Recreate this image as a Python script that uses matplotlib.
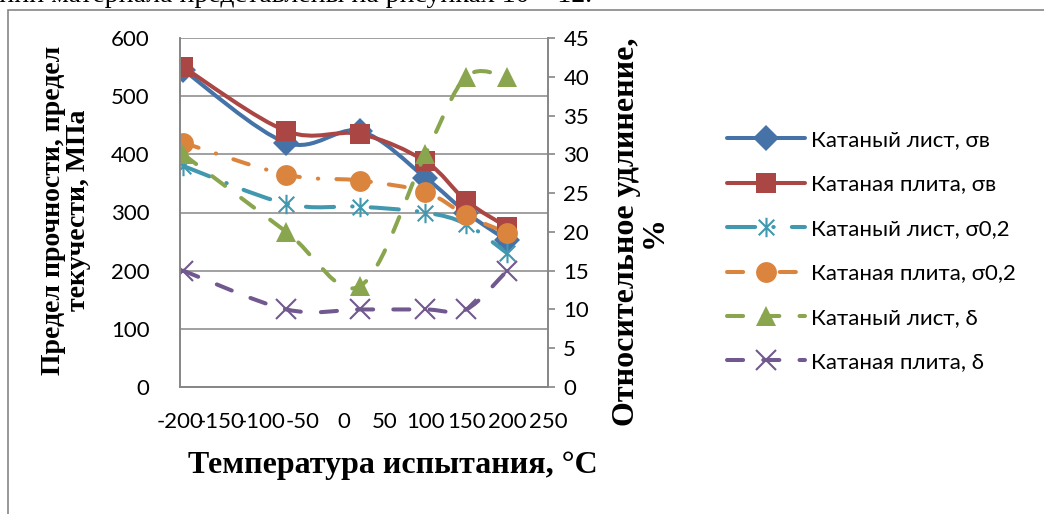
import numpy as np
import matplotlib
matplotlib.use("Agg")
import matplotlib.pyplot as plt
from matplotlib.path import Path
from matplotlib.patches import PathPatch, Rectangle
from matplotlib.lines import Line2D

plt.rcParams["axes.unicode_minus"] = False

# Test temperatures, deg C
temps = [-196, -70, 20, 100, 150, 200]

# Strength, MPa (left axis)
sheet_uts = [545, 420, 440, 360, 300, 252]
plate_uts = [550, 440, 435, 388, 320, 275]
sheet_ys = [380, 315, 310, 300, 280, 230]
plate_ys = [420, 365, 355, 335, 295, 265]

# Elongation, % (right axis)
sheet_elong = [30, 20, 13, 30, 40, 40]
plate_elong = [15, 10, 10, 10, 10, 15]

labels = ["Катаный лист, σв", "Катаная плита, σв",
          "Катаный лист, σ0,2", "Катаная плита, σ0,2",
          "Катаный лист, δ", "Катаная плита, δ"]

W, H = 1044, 514
fig = plt.figure(figsize=(W / 100, H / 100), dpi=100)

TICK_FONT = "Lato"
SERIF = "Liberation Serif"
GREY = "#868686"

# page fragment above the chart and the chart frame
fig.text(592 / W, 1 - 2 / H,
         "Результаты испытаний материала представлены на рисунках 10 – 12.",
         ha="right", va="baseline", fontsize=20, family=SERIF)
fig.add_artist(Rectangle((8 / W, -0.1), 1.2, 1 - 10 / H + 0.1,
                         transform=fig.transFigure, fill=False,
                         edgecolor=GREY, lw=1.2))

ax = fig.add_axes([180 / W, 1 - 387 / H, 368 / W, 349 / H])
ax2 = ax.twinx()

ax.set_xlim(-200, 250)
ax.set_ylim(0, 600)
ax2.set_ylim(0, 45)
ax.set_xticks(np.arange(-200, 251, 50))
ax.set_yticks(np.arange(0, 601, 100))
ax2.set_yticks(np.arange(0, 46, 5))

ax.grid(axis="y", color=GREY, lw=1.1)
ax.set_axisbelow(True)
for a in (ax, ax2):
    for side in ("left", "right", "bottom"):
        a.spines[side].set_color(GREY)
        a.spines[side].set_linewidth(1.2)
    a.spines["top"].set_visible(False)
ax.tick_params(axis="x", length=0, pad=18, labelsize=16)
ax.tick_params(axis="y", length=0, pad=22, labelsize=16)
ax2.tick_params(axis="y", length=5, width=1.2, color=GREY, pad=6, labelsize=16)
for lab in ax.get_xticklabels() + ax.get_yticklabels() + ax2.get_yticklabels():
    lab.set_family(TICK_FONT)


def smooth_path(x, y):
    """Cubic Bezier path through the points (Catmull-Rom style tangents)."""
    pts = np.column_stack([x, y]).astype(float)
    ext = np.vstack([pts[0], pts, pts[-1]])
    verts = [pts[0]]
    codes = [Path.MOVETO]
    for i in range(1, len(ext) - 2):
        p0, p1, p2, p3 = ext[i - 1], ext[i], ext[i + 1], ext[i + 2]
        verts += [p1 + (p2 - p0) / 6, p2 - (p3 - p1) / 6, p2]
        codes += [Path.CURVE4] * 3
    return Path(verts, codes)


star = Path([(0, -1), (0, 1), (-0.8, -0.8), (0.8, 0.8), (-0.8, 0.8), (0.8, -0.8)],
            [Path.MOVETO, Path.LINETO] * 3)

LW = 2.9
series = [
    (ax, sheet_uts, "#4572A7", "-", "D", 13),
    (ax, plate_uts, "#AA4643", "-", "s", 14),
    (ax, sheet_ys, "#4198AF", (0, (7, 4.5, 0.1, 4.5)), star, 14),
    (ax, plate_ys, "#DB843D", (0, (4, 4.5, 0.1, 4.5)), "o", 15),
    (ax2, sheet_elong, "#89A54E", (0, (4, 5)), "^", 15),
    (ax2, plate_elong, "#71588F", (0, (4, 5)), "x", 14),
]

handles = []
for a, vals, color, ls, marker, ms in series:
    a.add_patch(PathPatch(smooth_path(temps, vals), fill=False, edgecolor=color,
                          lw=LW, linestyle=ls, capstyle="round",
                          joinstyle="round"))
    open_marker = marker == "x" or marker is star
    mkw = dict(marker=marker, ms=ms, color=color,
               mfc="none" if open_marker else color,
               mec=color, mew=1.5 if open_marker else 0)
    a.plot(temps, vals, ls="none", **mkw)
    handles.append(Line2D([], [], lw=LW, ls=ls, solid_capstyle="round",
                          dash_capstyle="round", **mkw))

fig.legend(handles, labels, loc="upper left",
           bbox_to_anchor=(727 / W, 1 - 130 / H), frameon=False,
           borderpad=0, borderaxespad=0, handlelength=3.5, handletextpad=0.3,
           labelspacing=1.1, numpoints=1,
           prop={"family": TICK_FONT, "size": 16})

# axis titles
fig.text(393 / W, 1 - 466 / H, "Температура испытания, °C", ha="center",
         va="center", fontsize=23, fontweight="bold", family=SERIF)
fig.text(66 / W, 1 - 210 / H, "Предел прочности, предел\nтекучести, МПа",
         ha="center", va="center", rotation=90, fontsize=20,
         fontweight="bold", family=SERIF, linespacing=0.95)
fig.text(640 / W, 1 - 232 / H, "Относительное удлинение,\n%",
         ha="center", va="center", rotation=90, fontsize=23,
         fontweight="bold", family=SERIF, linespacing=0.95)

fig.savefig("out.png", dpi=100, facecolor="white")
